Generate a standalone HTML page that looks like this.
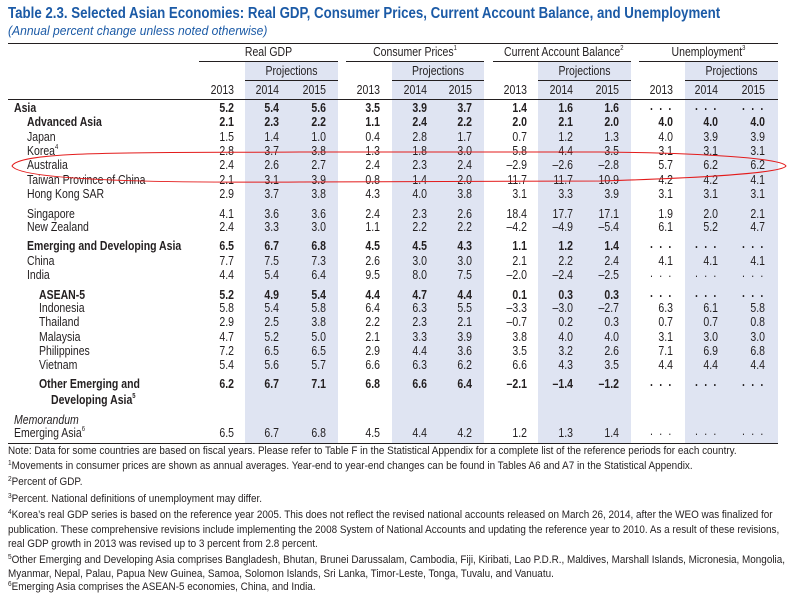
<!DOCTYPE html>
<html><head><meta charset="utf-8"><style>
body{margin:0;width:788px;height:599px;background:#fff;position:relative;overflow:hidden;font-family:"Liberation Sans",sans-serif;color:#231f20}
.a{position:absolute;white-space:nowrap;line-height:1}
.t{font-size:12.5px;transform:scaleX(0.84);transform-origin:left center}
.c{transform-origin:center center}
.n{font-size:12.5px;text-align:right;width:40px;transform:scaleX(0.84);transform-origin:right center}
.b{font-weight:bold}
.shade{position:absolute;background:#dfe4f2}
.hl{position:absolute;height:1px;background:#231f20}
.fn{font-size:10.6px;left:8px;position:absolute;white-space:nowrap;line-height:1;transform:scaleX(0.935);transform-origin:left center}
sup{font-size:7px;vertical-align:top;position:relative;top:-1px}
</style></head><body>
<div id="root">
<div class="a b" style="left:8px;top:6px;font-size:16px;color:#1b5aa6;transform:scaleX(0.83);transform-origin:left center">Table 2.3. Selected Asian Economies: Real GDP, Consumer Prices, Current Account Balance, and Unemployment</div>
<div class="a" style="left:8px;top:24px;font-size:13px;font-style:italic;color:#1b5aa6;transform:scaleX(0.93);transform-origin:left center">(Annual percent change unless noted otherwise)</div>
</div>
<svg id="ann" width="788" height="599" style="position:absolute;left:0;top:0;z-index:5">
<path d="M12 166 C20 150,150 153,300 152 L600 152 C700 153,782 158,786 166 C782 173,700 178,600 181 L300 182 C150 183,20 180,12 166 Z" fill="none" stroke="#e31b1b" stroke-width="1"/>
</svg>
<script>
const groups=["Real GDP","Consumer Prices","Current Account Balance","Unemployment"];
const groupSup=["","1","2","3"];
const years=["2013","2014","2015"];
const labels=["Asia","Advanced Asia","Japan","Korea","Australia","Taiwan Province of China","Hong Kong SAR","Singapore","New Zealand","Emerging and Developing Asia","China","India","ASEAN-5","Indonesia","Thailand","Malaysia","Philippines","Vietnam","Other Emerging and","Emerging Asia"];
const gdp=[["5.2","5.4","5.6"],["2.1","2.3","2.2"],["1.5","1.4","1.0"],["2.8","3.7","3.8"],["2.4","2.6","2.7"],["2.1","3.1","3.9"],["2.9","3.7","3.8"],["4.1","3.6","3.6"],["2.4","3.3","3.0"],["6.5","6.7","6.8"],["7.7","7.5","7.3"],["4.4","5.4","6.4"],["5.2","4.9","5.4"],["5.8","5.4","5.8"],["2.9","2.5","3.8"],["4.7","5.2","5.0"],["7.2","6.5","6.5"],["5.4","5.6","5.7"],["6.2","6.7","7.1"],["6.5","6.7","6.8"]];
const cpi=[["3.5","3.9","3.7"],["1.1","2.4","2.2"],["0.4","2.8","1.7"],["1.3","1.8","3.0"],["2.4","2.3","2.4"],["0.8","1.4","2.0"],["4.3","4.0","3.8"],["2.4","2.3","2.6"],["1.1","2.2","2.2"],["4.5","4.5","4.3"],["2.6","3.0","3.0"],["9.5","8.0","7.5"],["4.4","4.7","4.4"],["6.4","6.3","5.5"],["2.2","2.3","2.1"],["2.1","3.3","3.9"],["2.9","4.4","3.6"],["6.6","6.3","6.2"],["6.8","6.6","6.4"],["4.5","4.4","4.2"]];
const cab=[["1.4","1.6","1.6"],["2.0","2.1","2.0"],["0.7","1.2","1.3"],["5.8","4.4","3.5"],["–2.9","–2.6","–2.8"],["11.7","11.7","10.9"],["3.1","3.3","3.9"],["18.4","17.7","17.1"],["–4.2","–4.9","–5.4"],["1.1","1.2","1.4"],["2.1","2.2","2.4"],["–2.0","–2.4","–2.5"],["0.1","0.3","0.3"],["–3.3","–3.0","–2.7"],["–0.7","0.2","0.3"],["3.8","4.0","4.0"],["3.5","3.2","2.6"],["6.6","4.3","3.5"],["–2.1","–1.4","–1.2"],["1.2","1.3","1.4"]];
const unemp=[["...","...","..."],["4.0","4.0","4.0"],["4.0","3.9","3.9"],["3.1","3.1","3.1"],["5.7","6.2","6.2"],["4.2","4.2","4.1"],["3.1","3.1","3.1"],["1.9","2.0","2.1"],["6.1","5.2","4.7"],["...","...","..."],["4.1","4.1","4.1"],["...","...","..."],["...","...","..."],["6.3","6.1","5.8"],["0.7","0.7","0.8"],["3.1","3.0","3.0"],["7.1","6.9","6.8"],["4.4","4.4","4.4"],["...","...","..."],["...","...","..."]];
const footnotes=["Note: Data for some countries are based on fiscal years. Please refer to Table F in the Statistical Appendix for a complete list of the reference periods for each country.","<sup>1</sup>Movements in consumer prices are shown as annual averages. Year-end to year-end changes can be found in Tables A6 and A7 in the Statistical Appendix.","<sup>2</sup>Percent of GDP.","<sup>3</sup>Percent. National definitions of unemployment may differ.","<sup>4</sup>Korea’s real GDP series is based on the reference year 2005. This does not reflect the revised national accounts released on March 26, 2014, after the WEO was finalized for","publication. These comprehensive revisions include implementing the 2008 System of National Accounts and updating the reference year to 2010. As a result of these revisions,","real GDP growth in 2013 was revised up to 3 percent from 2.8 percent.","<sup>5</sup>Other Emerging and Developing Asia comprises Bangladesh, Bhutan, Brunei Darussalam, Cambodia, Fiji, Kiribati, Lao P.D.R., Maldives, Marshall Islands, Micronesia, Mongolia,","Myanmar, Nepal, Palau, Papua New Guinea, Samoa, Solomon Islands, Sri Lanka, Timor-Leste, Tonga, Tuvalu, and Vanuatu.","<sup>6</sup>Emerging Asia comprises the ASEAN-5 economies, China, and India."];

const root=document.getElementById('root');
const rowY=[109,123,138,152,166,181,195,215,228,247,262,276,296,309,323,338,352,366,385,434];
const indent=[14,27,27,27,27,27,27,27,27,27,27,27,39,39,39,39,39,39,39,14];
const boldRows=[0,1,9,12,18];
const sups={3:"4",19:"6"};
const grpL=[199,346,493,639],grpR=[338,484,631,778],shL=[245,392,538,685];
const colR=[[234,279,326],[380,427,472],[527,573,619],[673,718,765]];
const series=[gdp,cpi,cab,unemp];
function mk(cls,name,css,html){const d=document.createElement('div');d.className=cls;d.style.cssText=css;d.innerHTML=html;root.appendChild(d);return d;}
for(let g=0;g<4;g++){
 const s=mk('shade','','left:'+shL[g]+'px;top:62px;width:'+(grpR[g]-shL[g])+'px;height:381px','');
 
 
 const h=mk('a t c','','left:'+grpL[g]+'px;width:'+(grpR[g]-grpL[g])+'px;text-align:center;top:46px',groups[g]+(groupSup[g]?'<sup>'+groupSup[g]+'</sup>':''));
 
 
 const l=mk('hl','','left:'+grpL[g]+'px;width:'+(grpR[g]-grpL[g])+'px;top:61px','');
 
 
 const p=mk('a t c','','left:'+shL[g]+'px;width:'+(grpR[g]-shL[g])+'px;text-align:center;top:65px','Projections');
 
 
 const l2=mk('hl','','left:'+shL[g]+'px;width:'+(grpR[g]-shL[g])+'px;top:80px','');
 
 
 for(let y=0;y<3;y++){
  const e=mk('a n','','left:'+(colR[g][y]-40)+'px;top:84px',years[y]);
  
  
 }
}
[[43,8,770],[99,8,770],[443,8,770]].forEach(r=>{const l=mk('hl','','left:'+r[1]+'px;width:'+r[2]+'px;top:'+r[0]+'px','');
 
 });
for(let i=0;i<labels.length;i++){
 const b=boldRows.includes(i)?' b':'';
 const top=rowY[i]-7;
 const lb=mk('a t'+b,'','left:'+indent[i]+'px;top:'+top+'px',labels[i]+(sups[i]?'<sup>'+sups[i]+'</sup>':''));
 
 
 for(let g=0;g<4;g++)for(let y=0;y<3;y++){
  let v=series[g][i][y];const dots=v==='...';
  const e=mk('a n'+b,'','left:'+(colR[g][y]-40)+'px;top:'+(dots?top-2:top)+'px;'+(dots?'letter-spacing:2px;':''),dots?'. . .':v);
  
  
 }
}
const d2=mk('a t b','','left:51px;top:394px','Developing Asia<sup>5</sup>');


const mm=mk('a t','','left:14px;top:414px;font-style:italic','Memorandum');


const fy=[452,467,483,500,516,531,545,561,575,588];
for(let i=0;i<footnotes.length;i++){
 const f=mk('fn','','top:'+(fy[i]-6)+'px',footnotes[i]);
 
 
}
</script>
</body></html>
